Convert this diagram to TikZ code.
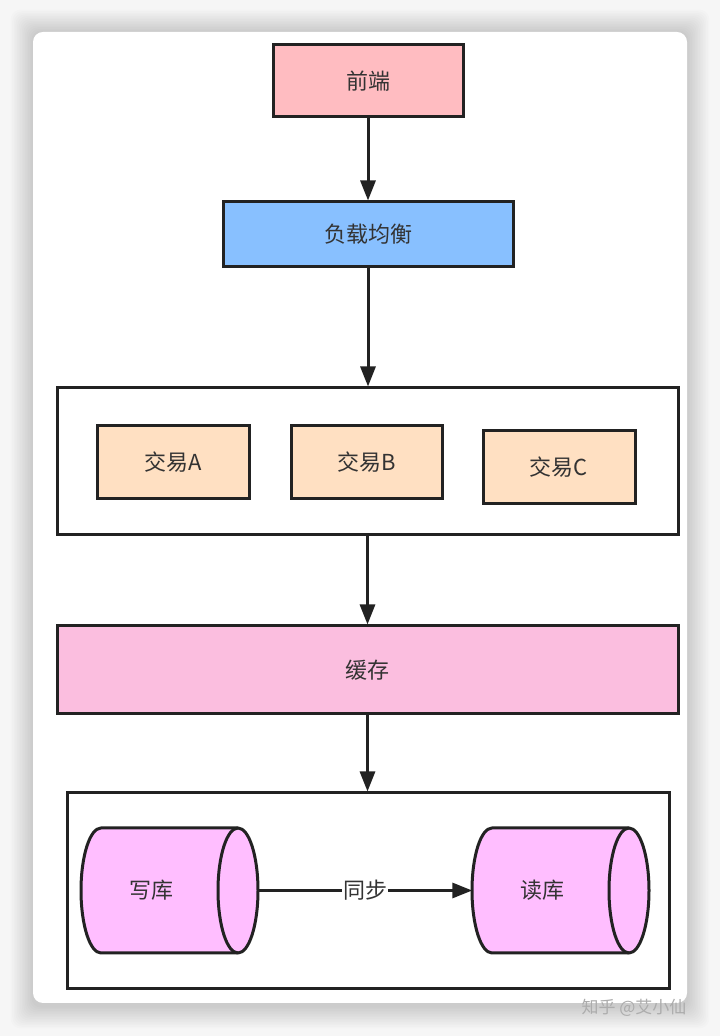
\documentclass[tikz,border=0pt]{standalone}
\usepackage{fontspec}
\setmainfont{Noto Sans CJK SC}
\usetikzlibrary{arrows.meta}
\definecolor{edge}{HTML}{222222}
\definecolor{txt}{HTML}{333333}
\definecolor{fePink}{HTML}{FFBCC1}
\definecolor{lbBlue}{HTML}{88C0FF}
\definecolor{trPeach}{HTML}{FFE0C2}
\definecolor{caPink}{HTML}{FBBEDF}
\definecolor{dbFill}{HTML}{FFBEFF}
\definecolor{bgGray}{HTML}{F6F6F6}
\begin{document}
\begin{tikzpicture}[x=1pt,y=1pt,
  box/.style={draw=edge,line width=3pt,fill=#1,font=\fontsize{22}{26}\selectfont,text=txt,inner sep=0pt},
  frame/.style={draw=edge,line width=3pt,fill=white,inner sep=0pt},
  conn/.style={draw=edge,line width=3pt,-{Triangle[length=20pt,width=15pt]}},
  lbl/.style={fill=white,font=\fontsize{22}{26}\selectfont,text=txt,inner sep=1pt},
  dbtext/.style={font=\fontsize{22}{26}\selectfont,text=txt,inner sep=0pt,minimum width=177pt,minimum height=125pt},
  dbcyl/.pic={
    \filldraw[fill=dbFill,draw=edge,line width=3pt,line join=round]
      (20,125) -- (157,125) arc[start angle=90,end angle=-90,x radius=20,y radius=62.5]
      -- (20,0) arc[start angle=270,end angle=90,x radius=20,y radius=62.5] -- cycle;
    \draw[draw=edge,line width=3pt]
      (157,125) arc[start angle=90,end angle=270,x radius=20,y radius=62.5];
  }
]
\useasboundingbox (0,0) rectangle (720,1036);
\fill[bgGray] (0,0) rectangle (720,1036);
% card shadow
\foreach \i in {1,...,14}{
  \fill[black,opacity=0.012,rounded corners=10pt] (33-1.6*\i,30-1.6*\i) rectangle (687+1.6*\i,1004+1.6*\i);
}
\node[fill=white,rounded corners=10pt,minimum width=654pt,minimum height=971pt,inner sep=0pt] (card) at (360,518.5) {};

% nodes
\node[box=fePink,minimum width=190pt,minimum height=72pt] (fe) at (368,955) {前端};
\node[box=lbBlue,minimum width=290pt,minimum height=65pt] (lb) at (368,801.5) {负载均衡};
\node[frame,minimum width=621pt,minimum height=147pt] (tr) at (367.5,574.5) {};
\node[box=trPeach,minimum width=152pt,minimum height=73pt] (ta) at (173,573.5) {交易A};
\node[box=trPeach,minimum width=151pt,minimum height=73pt] (tb) at (366.5,573.5) {交易B};
\node[box=trPeach,minimum width=152pt,minimum height=73pt] (tc) at (559,568.5) {交易C};
\node[box=caPink,minimum width=621pt,minimum height=88pt] (ca) at (367.5,366) {缓存};
\node[frame,minimum width=602pt,minimum height=196pt] (db) at (368,145) {};

\pic at (81,83) {dbcyl};
\pic at (472,83) {dbcyl};
\node[dbtext] (w) at (169.5,145.5) {\hspace*{-37pt}写库};
\node[dbtext] (r) at (561,145.5) {\hspace*{-37pt}读库};

% connectors
\draw[conn] (fe.south) -- (lb.north);
\draw[conn] (lb.south) -- (lb.south |- tr.north);
\draw[conn] (tr.south) -- (tr.south |- ca.north);
\draw[conn] (ca.south) -- (ca.south |- db.north);
\draw[conn] (w.east) -- node[lbl] (sync) {同步} (r.west);

% watermark
\node[text=gray!65,font=\fontsize{17}{20}\selectfont,inner sep=0pt] (wm) at (634,1036-1008) {知乎 @艾小仙};
\end{tikzpicture}
\end{document}
